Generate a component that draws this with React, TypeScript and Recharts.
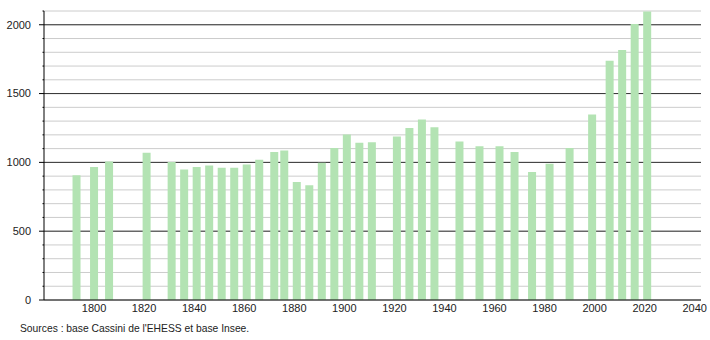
import React from 'react';
import { BarChart, Bar, XAxis, YAxis, CartesianGrid } from 'recharts';

const years = [1793, 1800, 1806, 1821, 1831, 1836, 1841, 1846, 1851, 1856, 1861, 1866, 1872, 1876, 1881, 1886, 1891, 1896, 1901, 1906, 1911, 1921, 1926, 1931, 1936, 1946, 1954, 1962, 1968, 1975, 1982, 1990, 1999, 2006, 2011, 2016, 2021];
const population = [906, 966, 1007, 1070, 1002, 949, 966, 978, 961, 961, 985, 1019, 1075, 1087, 857, 833, 998, 1104, 1203, 1143, 1147, 1188, 1249, 1312, 1256, 1152, 1118, 1118, 1075, 930, 990, 1104, 1348, 1739, 1816, 2005, 2096];
const xTicks = [1800, 1820, 1840, 1860, 1880, 1900, 1920, 1940, 1960, 1980, 2000, 2020, 2040];
const yTicks = Array.from({ length: 22 }, (_, i) => i * 100);
const majorY = [500, 1000, 1500, 2000];
const Y_MAX = 2100;
const sourceText = "Sources : base Cassini de l'EHESS et base Insee.";

const data = years.map((y, i) => ({ year: y, pop: population[i] }));

const FONT = '"Liberation Sans", Arial, sans-serif';

const YTick = (props: any) => {
  const { x, y, payload } = props;
  const v = payload.value as number;
  const major = v % 500 === 0;
  return (
    <g>
      <line x1={x - (major ? 5 : 1.5)} x2={x} y1={y} y2={y} stroke="#000" strokeWidth={1} />
      {major && (
        <text x={x - 13} y={y} dy="0.35em" textAnchor="end" fontSize={11} fontFamily={FONT} fill="#222">
          {v}
        </text>
      )}
    </g>
  );
};

export default function App() {
  return (
    <div style={{ position: 'absolute', left: 0, top: 0, width: 710, height: 340, background: '#fff' }}>
      <BarChart width={710} height={340} data={data} margin={{ top: 11, right: 9, bottom: 10, left: 0 }}>
        <CartesianGrid vertical={false} stroke="#cccccc" strokeWidth={1} />
        <CartesianGrid
          vertical={false}
          stroke="#333333"
          strokeWidth={1}
          horizontalCoordinatesGenerator={({ offset }: any) =>
            majorY.map((v) => offset.top + offset.height * (1 - v / Y_MAX))
          }
        />
        <XAxis
          dataKey="year"
          type="number"
          domain={[1780, 2042.5]}
          ticks={xTicks}
          allowDataOverflow
          height={30}
          tickLine={false}
          tickSize={0}
          tickMargin={4}
          axisLine={{ stroke: '#000', strokeWidth: 1 }}
          tick={{ fontSize: 11, fontFamily: FONT, fill: '#222' }}
        />
        <YAxis
          type="number"
          domain={[0, Y_MAX]}
          ticks={yTicks}
          interval={0}
          width={44}
          tickLine={false}
          tickSize={0}
          tickMargin={0}
          axisLine={{ stroke: '#000', strokeWidth: 1 }}
          tick={<YTick />}
        />
        <Bar dataKey="pop" fill="#b3e3b3" barSize={8} isAnimationActive={false} />
      </BarChart>
      <div style={{ position: 'absolute', left: 20, top: 323, fontFamily: FONT, fontSize: 10.3, color: '#222', whiteSpace: 'nowrap' }}>
        {sourceText}
      </div>
    </div>
  );
}
